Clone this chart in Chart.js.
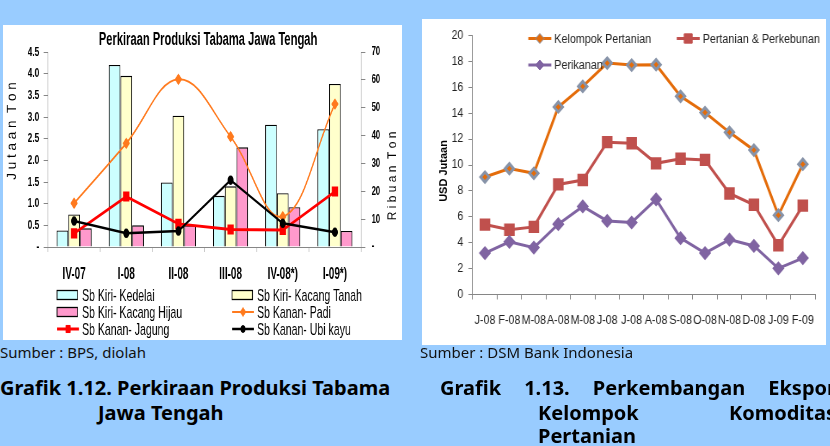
<!DOCTYPE html>
<html>
<head>
<meta charset="utf-8">
<script src="https://cdn.jsdelivr.net/npm/chart.js@4.4.1/dist/chart.umd.min.js"></script>
<style>
    html, body { margin: 0; padding: 0; }
    body { width: 830px; height: 446px; background: #99ccff; position: relative; overflow: hidden; font-family: "Noto Sans", sans-serif; }
    .panel { position: absolute; background: #fff; overflow: hidden; }
    #leftPanel { left: 3px; top: 25px; width: 399px; height: 315px; }
    #rightPanel { left: 422px; top: 19px; width: 404px; height: 326px; }
    .panel canvas { position: absolute; left: 0; top: 0; transform-origin: 0 0; }
    .src { position: absolute; top: 343px; font-size: 15px; line-height: 18px; color: #111; white-space: nowrap; }
    .cap { position: absolute; font-weight: bold; font-size: 20px; line-height: 24px; color: #000; white-space: nowrap; }
    .just { text-align: justify; text-align-last: justify; white-space: normal; }
</style>
</head>
<body>
<div class="panel" id="leftPanel"><canvas id="leftChart"></canvas></div>
<div class="panel" id="rightPanel"><canvas id="rightChart"></canvas></div>

<div class="src" style="left:0px;">Sumber : BPS, diolah</div>
<div class="src" style="left:420px;">Sumber : DSM Bank Indonesia</div>

<div class="cap" style="left:0px; top:376px;">Grafik 1.12. Perkiraan Produksi Tabama</div>
<div class="cap" style="left:98px; top:401px;">Jawa Tengah</div>
<div class="cap just" style="left:440px; top:376px; width:396px;">Grafik 1.13. Perkembangan Ekspor</div>
<div class="cap just" style="left:538px; top:401px; width:298px;">Kelompok Komoditas</div>
<div class="cap" style="left:538px; top:424px;">Pertanian</div>

<script>
// Grafik 1.12 - produksi tabama per triwulan
var quarters = ['IV-07', 'I-08', 'II-08', 'III-08', 'IV-08*)', 'I-09*)'];
var kedelai = [0.38, 4.2, 1.49, 1.18, 2.82, 2.72];
var kacangTanah = [0.75, 3.95, 3.03, 1.4, 1.24, 3.76];
var kacangHijau = [0.43, 0.5, 0.5, 2.3, 0.92, 0.37];
var padi = [15.7, 37.2, 60.2, 39.6, 10.9, 51.3];
var jagung = [4.9, 18.1, 8.3, 6.3, 6.1, 19.9];
var ubiKayu = [9.3, 4.9, 5.7, 24.0, 8.5, 5.3];

// Grafik 1.13 - ekspor komoditas pertanian (USD juta)
var months = ['J-08', 'F-08', 'M-08', 'A-08', 'M-08', 'J-08', 'J-08', 'A-08', 'S-08', 'O-08', 'N-08', 'D-08', 'J-09', 'F-09'];
var kelompokPertanian = [9.07, 9.72, 9.36, 14.48, 16.07, 17.87, 17.72, 17.75, 15.3, 14.05, 12.52, 11.15, 6.12, 10.06];
var pertanianPerkebunan = [5.4, 5.0, 5.22, 8.5, 8.84, 11.76, 11.68, 10.13, 10.48, 10.39, 7.8, 6.93, 3.8, 6.86];
var perikanan = [3.2, 4.07, 3.62, 5.43, 6.8, 5.68, 5.56, 7.35, 4.35, 3.2, 4.24, 3.75, 2.02, 2.81];

var SANS = '"Liberation Sans", Arial, sans-serif';
var AXIS_GRAY = '#868686';

// both pictures were pasted squeezed sideways, so the canvases are drawn wide and squeezed back
var S_LEFT = 0.62;
var S_RIGHT = 0.86;

function setupCanvas(id, w, h, s) {
    var c = document.getElementById(id);
    c.width = Math.round(w / s);
    c.height = h;
    c.style.transform = 'scaleX(' + s + ')';
    return c;
}
function lx(v) { return v / S_LEFT; }
function rx(v) { return v / S_RIGHT; }

function drawMarker(ctx, style, x, y, r, fill, stroke) {
    ctx.save();
    ctx.fillStyle = fill;
    ctx.strokeStyle = stroke;
    ctx.lineWidth = 1;
    ctx.beginPath();
    if (style == 'rect') {
        var s = r * Math.SQRT1_2;
        ctx.rect(x - s, y - s, 2 * s, 2 * s);
    } else if (style == 'rectRot') {
        ctx.moveTo(x, y - r);
        ctx.lineTo(x + r, y);
        ctx.lineTo(x, y + r);
        ctx.lineTo(x - r, y);
        ctx.closePath();
    } else {
        ctx.arc(x, y, r, 0, Math.PI * 2);
    }
    ctx.fill();
    ctx.stroke();
    ctx.restore();
}

function drawLineKey(ctx, ds, x1, x2, y) {
    ctx.save();
    ctx.strokeStyle = ds.borderColor;
    ctx.lineWidth = ds.borderWidth;
    ctx.beginPath();
    ctx.moveTo(x1, y);
    ctx.lineTo(x2, y);
    ctx.stroke();
    ctx.restore();
    drawMarker(ctx, ds.pointStyle, (x1 + x2) / 2, y, ds.pointRadius, ds.pointBackgroundColor || ds.backgroundColor, ds.pointBorderColor || ds.borderColor);
}

// rotated text, un-squeezed so it keeps its normal proportions
function drawVertical(ctx, text, x, y, font, s) {
    ctx.save();
    ctx.font = font;
    ctx.textAlign = 'center';
    ctx.textBaseline = 'middle';
    ctx.fillStyle = '#000';
    ctx.translate(x, y);
    ctx.scale(1 / s, 1);
    ctx.rotate(-Math.PI / 2);
    ctx.fillText(text, 0, 0);
    ctx.restore();
}

// title, axis titles and the 2-column legend of the left chart
var leftDecor = {
    id: 'leftDecor',
    afterDraw: function (chart) {
        var ctx = chart.ctx;
        var ds = chart.data.datasets;
        ctx.save();
        ctx.fillStyle = '#000';
        ctx.textBaseline = 'middle';
        ctx.textAlign = 'center';
        ctx.font = 'bold 18px ' + SANS;
        ctx.fillText('Perkiraan Produksi Tabama Jawa Tengah', lx(205), 15);
        ctx.restore();

        drawVertical(ctx, 'J u t a a n  T o n', lx(9.5), 106, '13.5px ' + SANS, S_LEFT);
        drawVertical(ctx, 'R i b u a n  T o n', lx(390), 151, '12px ' + SANS, S_LEFT);

        // legend
        var rows = [270, 287, 304];
        var items = [[3, 4], [5, 0], [1, 2]];
        ctx.save();
        ctx.textBaseline = 'middle';
        ctx.textAlign = 'left';
        ctx.font = '17px ' + SANS;
        for (var r = 0; r < rows.length; r++) {
            for (var c = 0; c < 2; c++) {
                var d = ds[items[r][c]];
                var bx = c == 0 ? lx(54) : lx(229);
                var tx = c == 0 ? lx(79) : lx(254);
                if (d.type == 'line') {
                    drawLineKey(ctx, d, bx, bx + lx(22), rows[r]);
                } else {
                    ctx.fillStyle = d.backgroundColor;
                    ctx.fillRect(bx, rows[r] - 4.5, lx(20.5), 9);
                    ctx.strokeStyle = '#000';
                    ctx.lineWidth = 1.3;
                    ctx.strokeRect(bx, rows[r] - 4.5, lx(20.5), 9);
                }
                ctx.fillStyle = '#000';
                ctx.fillText(d.label, tx, rows[r] + 1);
            }
        }
        ctx.restore();
    }
};

var leftCanvas = setupCanvas('leftChart', 399, 315, S_LEFT);
new Chart(leftCanvas, {
    type: 'bar',
    data: {
        labels: quarters,
        datasets: [
            {type: 'line', label: 'Sb Kanan- Padi', data: padi, yAxisID: 'y1', borderColor: '#ff7a1e', backgroundColor: '#ff7a1e',
                borderWidth: 2, tension: 0.4, pointStyle: 'rectRot', pointRadius: 4.5, order: 3},
            {type: 'line', label: 'Sb Kanan- Jagung', data: jagung, yAxisID: 'y1', borderColor: '#ff0000', backgroundColor: '#ff0000',
                borderWidth: 3, tension: 0, pointStyle: 'rect', pointRadius: 5, order: 2},
            {type: 'line', label: 'Sb Kanan- Ubi kayu', data: ubiKayu, yAxisID: 'y1', borderColor: '#000000', backgroundColor: '#000000',
                borderWidth: 2.5, tension: 0, pointStyle: 'circle', pointRadius: 3.5, order: 1},
            {label: 'Sb Kiri- Kedelai', data: kedelai, yAxisID: 'y', backgroundColor: '#ccffff', borderColor: '#000', borderWidth: 1.3,
                categoryPercentage: 0.67, barPercentage: 1, order: 10},
            {label: 'Sb Kiri- Kacang Tanah', data: kacangTanah, yAxisID: 'y', backgroundColor: '#ffffcc', borderColor: '#000', borderWidth: 1.3,
                categoryPercentage: 0.67, barPercentage: 1, order: 10},
            {label: 'Sb Kiri- Kacang Hijau', data: kacangHijau, yAxisID: 'y', backgroundColor: '#ff99cc', borderColor: '#000', borderWidth: 1.3,
                categoryPercentage: 0.67, barPercentage: 1, order: 10}
        ]
    },
    options: {
        responsive: false,
        animation: false,
        events: [],
        layout: {padding: {top: 27, bottom: 48, left: 0, right: 0}},
        plugins: {legend: {display: false}, tooltip: {enabled: false}},
        scales: {
            x: {
                grid: {drawOnChartArea: false, tickLength: 5, color: AXIS_GRAY, offset: true},
                border: {color: AXIS_GRAY},
                ticks: {color: '#000', padding: 13, maxRotation: 0, autoSkip: false, font: {family: SANS, size: 16, weight: 'bold'}},
                afterFit: function (scale) { scale.height = 45; }
            },
            y: {
                position: 'left', min: 0, max: 4.5,
                grid: {drawOnChartArea: false, tickLength: 7, color: AXIS_GRAY},
                border: {color: AXIS_GRAY},
                ticks: {stepSize: 0.5, color: '#000', padding: 7, font: {family: SANS, size: 13.5, weight: 'bold'},
                    callback: function (v) { return v == 0 ? '-' : v.toFixed(1); }},
                afterFit: function (scale) { scale.width = lx(45); }
            },
            y1: {
                position: 'right', min: 0, max: 70,
                grid: {drawOnChartArea: false, tickLength: 7, color: AXIS_GRAY},
                border: {color: AXIS_GRAY},
                ticks: {stepSize: 10, color: '#000', padding: 10, font: {family: SANS, size: 12.5, weight: 'bold'},
                    callback: function (v) { return v == 0 ? '-' : v; }},
                afterFit: function (scale) { scale.width = leftCanvas.width - lx(358); }
            }
        }
    },
    plugins: [leftDecor]
});

// legend inside the plot and the y title of the right chart
var rightDecor = {
    id: 'rightDecor',
    afterDraw: function (chart) {
        var ctx = chart.ctx;
        var ds = chart.data.datasets;
        ctx.save();
        ctx.textBaseline = 'middle';
        ctx.textAlign = 'left';
        ctx.font = '12.5px ' + SANS;
        var keys = [[0, 106.3, 19.5], [1, 254.7, 19.5], [2, 106.3, 46]];
        for (var i = 0; i < keys.length; i++) {
            var d = ds[keys[i][0]];
            drawLineKey(ctx, d, rx(keys[i][1]), rx(keys[i][1] + 23), keys[i][2]);
            ctx.fillStyle = '#222';
            ctx.fillText(d.label, rx(keys[i][1] + 26), keys[i][2] + 1);
        }
        ctx.restore();
        drawVertical(ctx, 'USD Jutaan', rx(22.3), 152, 'bold 11px ' + SANS, S_RIGHT);
    }
};

var rightCanvas = setupCanvas('rightChart', 404, 326, S_RIGHT);
new Chart(rightCanvas, {
    type: 'line',
    data: {
        labels: months,
        datasets: [
            {label: 'Kelompok Pertanian', data: kelompokPertanian, borderColor: '#e46c0a', backgroundColor: '#e46c0a',
                pointBackgroundColor: '#e46c0a', pointBorderColor: '#8793a8', borderWidth: 3, pointStyle: 'rectRot', pointRadius: 5, order: 3},
            {label: 'Pertanian & Perkebunan', data: pertanianPerkebunan, borderColor: '#c0504d', backgroundColor: '#c0504d',
                borderWidth: 3, pointStyle: 'rect', pointRadius: 6.6, order: 2},
            {label: 'Perikanan', data: perikanan, borderColor: '#8064a2', backgroundColor: '#8064a2',
                borderWidth: 3, pointStyle: 'rectRot', pointRadius: 5, order: 1}
        ]
    },
    options: {
        responsive: false,
        animation: false,
        events: [],
        layout: {padding: {top: 16.5, bottom: 10.5, left: 0, right: rightCanvas.width - rx(395.7)}},
        plugins: {legend: {display: false}, tooltip: {enabled: false}},
        scales: {
            x: {
                offset: true,
                grid: {drawOnChartArea: false, tickLength: 5, color: AXIS_GRAY, offset: true},
                border: {color: AXIS_GRAY},
                ticks: {color: '#222', padding: 14, maxRotation: 0, autoSkip: false, font: {family: SANS, size: 12.5}},
                afterFit: function (scale) { scale.height = 40; }
            },
            y: {
                min: 0, max: 20,
                grid: {drawOnChartArea: false, tickLength: 5, color: AXIS_GRAY},
                border: {color: AXIS_GRAY},
                ticks: {stepSize: 2, color: '#222', padding: 6, font: {family: SANS, size: 12}},
                afterFit: function (scale) { scale.width = rx(50.7); }
            }
        }
    },
    plugins: [rightDecor]
});
</script>
</body>
</html>
